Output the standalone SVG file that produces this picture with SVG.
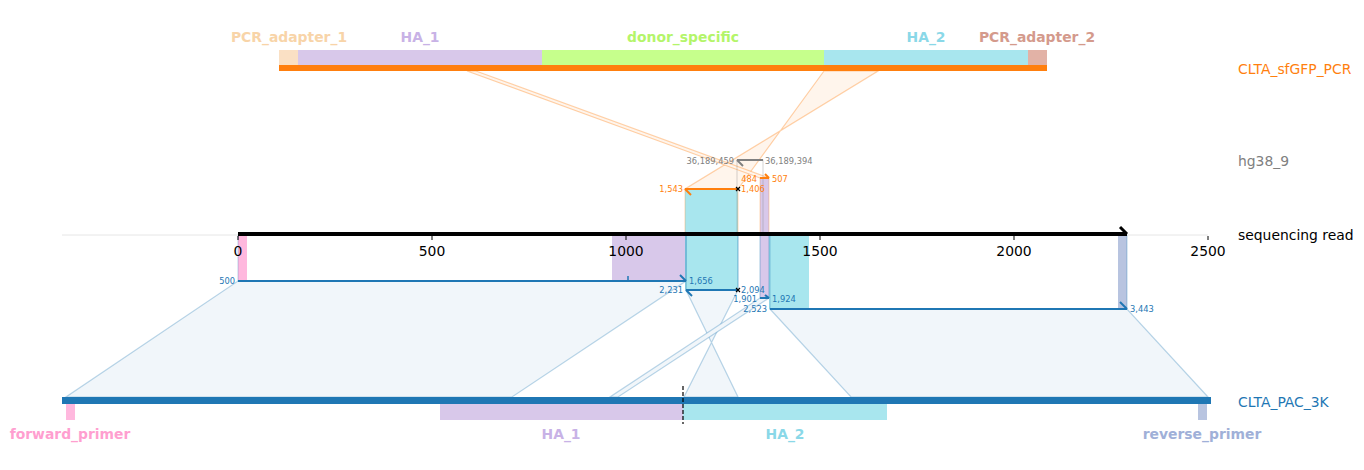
<svg xmlns="http://www.w3.org/2000/svg" width="1364" height="470" viewBox="0 0 1364 470">
<style>
text{font-family:"DejaVu Sans","Liberation Sans",sans-serif}
.feat{font-size:13.9px;font-weight:bold;text-anchor:middle}
.ref{font-size:13.9px}
.tick{font-size:13.9px;text-anchor:middle;fill:#000}
.sm{font-size:8.3px}
.end{text-anchor:end}
.bfill{fill:#f1f6fa;stroke:#1f77b4;stroke-opacity:0.3;stroke-width:1.2}
.ofill{fill:#fff5ec;stroke:#ff7f0e;stroke-opacity:0.35;stroke-width:1.2}
.bl{stroke:#1f77b4;stroke-width:2;fill:none}
.ol{stroke:#ff7f0e;stroke-width:2;fill:none}
.gl{stroke:#808080;stroke-width:2;fill:none}
.xm{stroke:#000;stroke-width:1.2}
</style>
<rect width="1364" height="470" fill="#fff"/>

<g id="connectors">
<polygon class="ofill" points="824,71 878,71 685,189 738,189"/>
<polygon class="ofill" points="467,71 476,71 769,178 760,178"/>
<polygon class="bfill" points="238,281 686,281 512,397 66,397"/>
<polygon class="bfill" points="686,290 738,290 684,397 738,397"/>
<polygon class="bfill" points="760,298 769,298 618,397 610,397"/>
<polygon class="bfill" points="770,309 1127,309 1208,397 851,397"/>
</g>

<g id="read-regions">
<rect x="238" y="235" width="9" height="46" fill="#ffb8de"/>
<rect x="612" y="235" width="74" height="46" fill="#d8c8ea"/>
<rect x="685" y="189" width="53" height="101" fill="#a8e6ee"/>
<rect x="760" y="178" width="9" height="120" fill="#d8c8ea"/>
<rect x="769" y="235" width="40" height="74" fill="#a8e6ee"/>
<rect x="1118" y="235" width="9" height="74" fill="#b8c4e0"/>
<rect x="737" y="160" width="26" height="74" fill="none" stroke="#808080" stroke-opacity="0.35" stroke-width="1"/>
<rect x="685" y="189" width="53" height="45" fill="none" stroke="#ff7f0e" stroke-opacity="0.3" stroke-width="1"/>
<rect x="760" y="178" width="9" height="56" fill="none" stroke="#ff7f0e" stroke-opacity="0.3" stroke-width="1"/>
<rect x="238" y="235" width="448" height="46" fill="none" stroke="#1f77b4" stroke-opacity="0.3" stroke-width="1"/>
<rect x="686" y="235" width="52" height="55" fill="none" stroke="#1f77b4" stroke-opacity="0.45" stroke-width="1.2"/>
<rect x="760" y="235" width="9" height="63" fill="none" stroke="#1f77b4" stroke-opacity="0.4" stroke-width="1"/>
<rect x="770" y="235" width="357" height="74" fill="none" stroke="#1f77b4" stroke-opacity="0.35" stroke-width="1"/>
</g>

<g id="axis">
<line x1="62" y1="235" x2="1208" y2="235" stroke="#e6e6e6" stroke-width="1"/>
<g stroke="#000" stroke-width="1">
<line x1="238" y1="236" x2="238" y2="240"/><line x1="432" y1="236" x2="432" y2="240"/><line x1="626" y1="236" x2="626" y2="240"/><line x1="820" y1="236" x2="820" y2="240"/><line x1="1014" y1="236" x2="1014" y2="240"/><line x1="1208" y1="236" x2="1208" y2="240"/>
</g>
<text class="tick" x="238" y="256">0</text><text class="tick" x="432" y="256">500</text><text class="tick" x="626" y="256">1000</text><text class="tick" x="820" y="256">1500</text><text class="tick" x="1014" y="256">2000</text><text class="tick" x="1208" y="256">2500</text>
</g>

<g id="CLTA_sfGFP_PCR">
<rect x="279" y="50" width="19" height="15" fill="#fae0c4"/>
<rect x="298" y="50" width="244" height="15" fill="#d8c8ea"/>
<rect x="542" y="50" width="282" height="15" fill="#c6ff8c"/>
<rect x="824" y="50" width="204" height="15" fill="#a8e6ee"/>
<rect x="1028" y="50" width="19" height="15" fill="#e2b2a6"/>
<rect x="279" y="65" width="768" height="6" fill="#ff7f0e"/>
<text class="feat" x="289" y="42" fill="#f8d4a8">PCR_adapter_1</text>
<text class="feat" x="420" y="42" fill="#c8b2e6">HA_1</text>
<text class="feat" x="683" y="42" fill="#b4f56a">donor_specific</text>
<text class="feat" x="926" y="42" fill="#8ad8e8">HA_2</text>
<text class="feat" x="1037" y="42" fill="#d49a8c">PCR_adapter_2</text>
<text class="ref" x="1238" y="74" fill="#ff7f0e">CLTA_sfGFP_PCR</text>
</g>

<g id="hg38_9">
<text class="ref" x="1238" y="166" fill="#808080">hg38_9</text>
</g>

<g id="sequencing_read">
<line x1="238" y1="234" x2="1127" y2="234" stroke="#000" stroke-width="4"/>
<path d="M1120,227 L1127,234" stroke="#000" stroke-width="3" fill="none"/>
<text class="ref" x="1238" y="240" fill="#000">sequencing read</text>
</g>

<g id="CLTA_PAC_3K">
<rect x="62" y="397" width="1149" height="7" fill="#1f77b4"/>
<rect x="66" y="404" width="9" height="16" fill="#ffb8de"/>
<rect x="440" y="404" width="243" height="16" fill="#d8c8ea"/>
<rect x="683" y="404" width="204" height="16" fill="#a8e6ee"/>
<rect x="1198" y="404" width="9" height="16" fill="#b8c4e0"/>
<line x1="683" y1="386" x2="683" y2="424" stroke="#000" stroke-width="1.2" stroke-dasharray="4,2"/>
<text class="feat" x="70" y="439" fill="#ff9fd0">forward_primer</text>
<text class="feat" x="561" y="439" fill="#c8b2e6">HA_1</text>
<text class="feat" x="785" y="439" fill="#8ad8e8">HA_2</text>
<text class="feat" x="1202" y="439" fill="#a0b0d8">reverse_primer</text>
<text class="ref" x="1238" y="407" fill="#1f77b4">CLTA_PAC_3K</text>
</g>

<g id="alignments">
<line class="gl" x1="737" y1="160" x2="763" y2="160"/><path class="gl" d="M737,160 L743,166"/>
<text class="sm end" x="734" y="164" fill="#808080">36,189,459</text><text class="sm" x="765" y="164" fill="#808080">36,189,394</text>

<line class="ol" x1="760" y1="178" x2="769" y2="178"/><path class="ol" d="M769,178 L765,174"/>
<text class="sm end" x="757" y="182" fill="#ff7f0e">484</text><text class="sm" x="772" y="182" fill="#ff7f0e">507</text>

<line class="ol" x1="685" y1="189" x2="738" y2="189"/><path class="ol" d="M685,189 L691,195"/>
<path class="xm" d="M736,187 L740,191 M740,187 L736,191"/>
<text class="sm end" x="683" y="192" fill="#ff7f0e">1,543</text><text class="sm" x="741" y="192" fill="#ff7f0e">1,406</text>

<line class="bl" x1="238" y1="281" x2="686" y2="281"/><path class="bl" d="M686,281 L680,275"/>
<line x1="628" y1="276" x2="628" y2="281" stroke="#1f77b4" stroke-width="1.5"/>
<text class="sm end" x="235" y="284" fill="#1f77b4">500</text><text class="sm" x="689" y="284" fill="#1f77b4">1,656</text>

<line class="bl" x1="686" y1="290" x2="738" y2="290"/><path class="bl" d="M686,290 L692,296"/>
<path class="xm" d="M736,288 L740,292 M740,288 L736,292"/>
<text class="sm end" x="683" y="293" fill="#1f77b4">2,231</text><text class="sm" x="741" y="293" fill="#1f77b4">2,094</text>

<line class="bl" x1="760" y1="298" x2="769" y2="298"/><path class="bl" d="M769,298 L765,295"/>
<text class="sm end" x="757" y="302" fill="#1f77b4">1,901</text><text class="sm" x="772" y="302" fill="#1f77b4">1,924</text>

<line class="bl" x1="770" y1="309" x2="1127" y2="309"/><path class="bl" d="M1127,309 L1120,302"/>
<text class="sm end" x="767" y="312" fill="#1f77b4">2,523</text><text class="sm" x="1130" y="312" fill="#1f77b4">3,443</text>
</g>
</svg>
